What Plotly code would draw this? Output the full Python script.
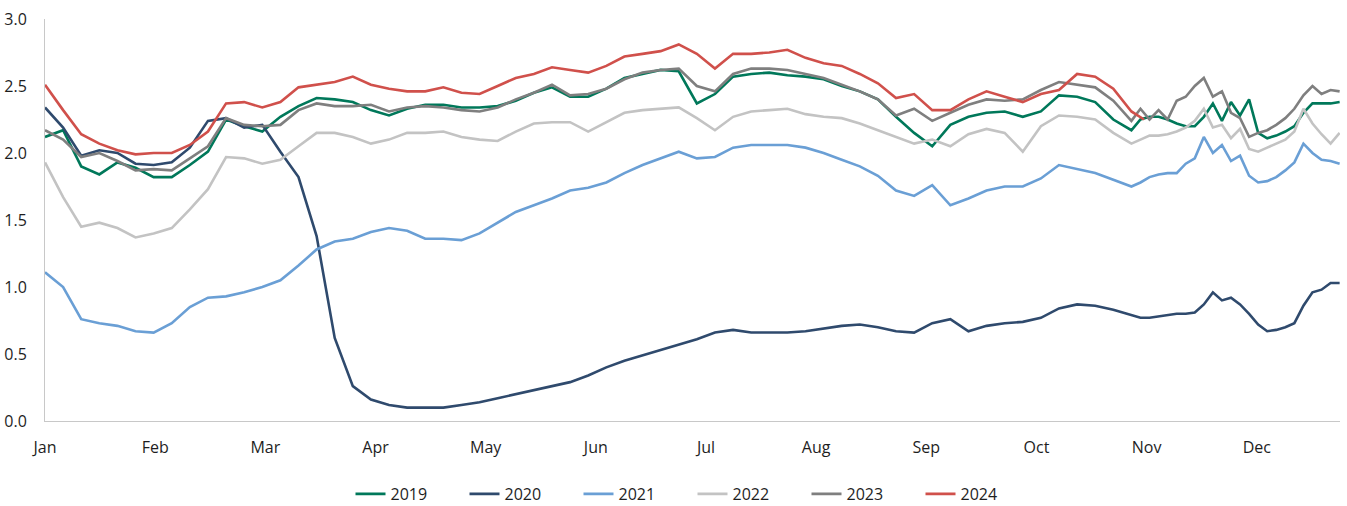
import plotly.graph_objects as go

# day index (uniform month spacing, 30.42 days per month label)
days = [d * 5 for d in range(60)] + [300 + k * 2.5 for k in range(24)]

months = ["Jan", "Feb", "Mar", "Apr", "May", "Jun", "Jul", "Aug", "Sep", "Oct", "Nov", "Dec"]
month_pos = [i * 30.42 for i in range(12)]

y2019 = [2.12, 2.17, 1.90, 1.84, 1.93, 1.89, 1.82, 1.82, 1.91, 2.01, 2.25, 2.20, 2.16, 2.27, 2.35, 2.41,
         2.40, 2.38, 2.32, 2.28, 2.33, 2.36, 2.36, 2.34, 2.34, 2.35, 2.39, 2.45, 2.49, 2.42, 2.42, 2.48,
         2.56, 2.59, 2.62, 2.61, 2.37, 2.44, 2.57, 2.59, 2.60, 2.58, 2.57, 2.55, 2.50, 2.46, 2.40, 2.27,
         2.15, 2.05, 2.21, 2.27, 2.30, 2.31, 2.27, 2.31, 2.43, 2.42, 2.38, 2.25,
         2.17, 2.25, 2.27, 2.27, 2.25, 2.22, 2.20, 2.20, 2.27, 2.37, 2.24, 2.38, 2.28, 2.40, 2.15, 2.11,
         2.13, 2.16, 2.20, 2.30, 2.37, 2.37, 2.37, 2.38]
y2020 = [2.34, 2.19, 1.98, 2.02, 2.00, 1.92, 1.91, 1.93, 2.04, 2.24, 2.26, 2.19, 2.21, 2.01, 1.82, 1.38,
         0.62, 0.26, 0.16, 0.12, 0.10, 0.10, 0.10, 0.12, 0.14, 0.17, 0.20, 0.23, 0.26, 0.29, 0.34, 0.40,
         0.45, 0.49, 0.53, 0.57, 0.61, 0.66, 0.68, 0.66, 0.66, 0.66, 0.67, 0.69, 0.71, 0.72, 0.70, 0.67,
         0.66, 0.73, 0.76, 0.67, 0.71, 0.73, 0.74, 0.77, 0.84, 0.87, 0.86, 0.83,
         0.79, 0.77, 0.77, 0.78, 0.79, 0.80, 0.80, 0.81, 0.87, 0.96, 0.90, 0.92, 0.87, 0.80, 0.72, 0.67,
         0.68, 0.70, 0.73, 0.86, 0.96, 0.98, 1.03, 1.03]
y2021 = [1.11, 1.00, 0.76, 0.73, 0.71, 0.67, 0.66, 0.73, 0.85, 0.92, 0.93, 0.96, 1.00, 1.05, 1.16, 1.28,
         1.34, 1.36, 1.41, 1.44, 1.42, 1.36, 1.36, 1.35, 1.40, 1.48, 1.56, 1.61, 1.66, 1.72, 1.74, 1.78,
         1.85, 1.91, 1.96, 2.01, 1.96, 1.97, 2.04, 2.06, 2.06, 2.06, 2.04, 2.00, 1.95, 1.90, 1.83, 1.72,
         1.68, 1.76, 1.61, 1.66, 1.72, 1.75, 1.75, 1.81, 1.91, 1.88, 1.85, 1.80,
         1.75, 1.78, 1.82, 1.84, 1.85, 1.85, 1.92, 1.96, 2.12, 2.00, 2.06, 1.94, 1.98, 1.83, 1.78, 1.79,
         1.82, 1.87, 1.93, 2.07, 2.00, 1.95, 1.94, 1.92]
y2022 = [1.93, 1.67, 1.45, 1.48, 1.44, 1.37, 1.40, 1.44, 1.58, 1.73, 1.97, 1.96, 1.92, 1.95, 2.05, 2.15,
         2.15, 2.12, 2.07, 2.10, 2.15, 2.15, 2.16, 2.12, 2.10, 2.09, 2.16, 2.22, 2.23, 2.23, 2.16, 2.23,
         2.30, 2.32, 2.33, 2.34, 2.26, 2.17, 2.27, 2.31, 2.32, 2.33, 2.29, 2.27, 2.26, 2.22, 2.17, 2.12,
         2.07, 2.10, 2.05, 2.14, 2.18, 2.15, 2.01, 2.20, 2.28, 2.27, 2.25, 2.15,
         2.07, 2.10, 2.13, 2.13, 2.14, 2.16, 2.19, 2.24, 2.33, 2.19, 2.21, 2.11, 2.18, 2.03, 2.01, 2.04,
         2.07, 2.10, 2.16, 2.33, 2.22, 2.14, 2.07, 2.15]
y2023 = [2.17, 2.10, 1.97, 2.00, 1.94, 1.87, 1.88, 1.87, 1.96, 2.05, 2.26, 2.21, 2.20, 2.21, 2.32, 2.37,
         2.35, 2.35, 2.36, 2.31, 2.34, 2.35, 2.34, 2.32, 2.31, 2.34, 2.40, 2.45, 2.51, 2.43, 2.44, 2.48,
         2.55, 2.60, 2.62, 2.63, 2.50, 2.46, 2.59, 2.63, 2.63, 2.62, 2.59, 2.56, 2.51, 2.46, 2.40, 2.28,
         2.33, 2.24, 2.30, 2.36, 2.40, 2.39, 2.40, 2.47, 2.53, 2.51, 2.49, 2.39,
         2.24, 2.33, 2.25, 2.32, 2.25, 2.39, 2.42, 2.50, 2.56, 2.42, 2.46, 2.30, 2.26, 2.12, 2.15, 2.17,
         2.21, 2.26, 2.33, 2.43, 2.50, 2.44, 2.47, 2.46]
y2024 = [2.51, 2.32, 2.14, 2.07, 2.02, 1.99, 2.00, 2.00, 2.06, 2.16, 2.37, 2.38, 2.34, 2.38, 2.49, 2.51,
         2.53, 2.57, 2.51, 2.48, 2.46, 2.46, 2.49, 2.45, 2.44, 2.50, 2.56, 2.59, 2.64, 2.62, 2.60, 2.65,
         2.72, 2.74, 2.76, 2.81, 2.74, 2.63, 2.74, 2.74, 2.75, 2.77, 2.71, 2.67, 2.65, 2.59, 2.52, 2.41,
         2.44, 2.32, 2.32, 2.40, 2.46, 2.42, 2.38, 2.44, 2.47, 2.59, 2.57, 2.48, 2.31, 2.25]
days2024 = [d * 5 for d in range(61)] + [303.5]

series = [
    ("2019", days, y2019, "#00785a"),
    ("2020", days, y2020, "#2f4a6d"),
    ("2021", days, y2021, "#6a9fd5"),
    ("2022", days, y2022, "#c3c3c3"),
    ("2023", days, y2023, "#7f7f7f"),
    ("2024", days2024, y2024, "#d0504b"),
]

fig = go.Figure()
for name, xs, ys, col in series:
    fig.add_trace(go.Scatter(x=xs, y=ys, name=name, mode="lines",
                             line=dict(color=col, width=2.6)))

font_family = "Open Sans, Noto Sans, sans-serif"
fig.update_layout(
    width=1347, height=506,
    margin=dict(l=45, r=7, t=19, b=85),
    paper_bgcolor="white", plot_bgcolor="white",
    font=dict(family=font_family, size=16, color="#1e1e1e"),
    showlegend=True,
    legend=dict(orientation="h", x=0.5, xanchor="center", yref="container",
                y=1 - 494 / 506, yanchor="middle", bgcolor="rgba(0,0,0,0)",
                font=dict(size=16), entrywidth=69, traceorder="normal"),
)
fig.update_xaxes(range=[0, 357.6], tickvals=month_pos, ticktext=months, showgrid=False,
                 zeroline=False, showline=True, linecolor="#c8c8c8", linewidth=1,
                 ticks="", ticklabelstandoff=12, automargin=False)
fig.update_yaxes(range=[0, 3.0], tickvals=[0, 0.5, 1.0, 1.5, 2.0, 2.5, 3.0],
                 ticktext=["0.0", "0.5", "1.0", "1.5", "2.0", "2.5", "3.0"], showgrid=False,
                 zeroline=False, showline=True, linecolor="#c8c8c8", linewidth=1,
                 ticks="", ticklabelstandoff=14, automargin=False)

fig.write_html("out.html", config={"responsive": False, "displayModeBar": False},
               post_script="document.body.style.margin='0px';document.body.style.overflow='hidden';")
